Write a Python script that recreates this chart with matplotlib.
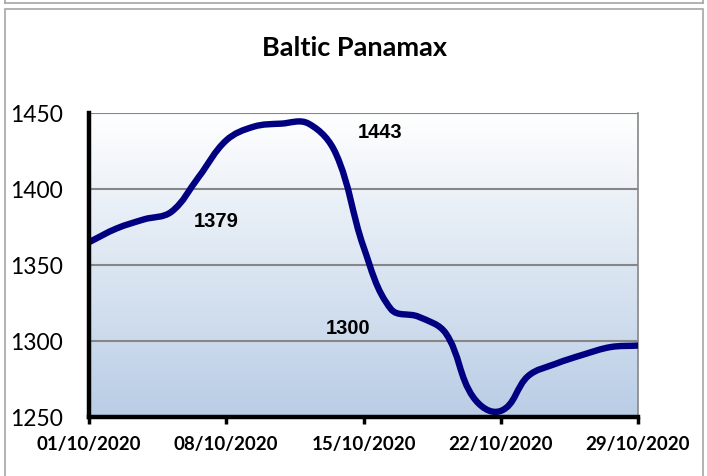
import numpy as np
import matplotlib
matplotlib.use("Agg")
import matplotlib.pyplot as plt
from matplotlib.path import Path
from matplotlib.patches import PathPatch, Rectangle
from matplotlib.lines import Line2D

# ---- data ----
dates = ['01/10/2020', '02/10/2020', '05/10/2020', '06/10/2020', '07/10/2020',
         '08/10/2020', '09/10/2020', '12/10/2020', '13/10/2020', '14/10/2020',
         '15/10/2020', '16/10/2020', '19/10/2020', '20/10/2020', '21/10/2020',
         '22/10/2020', '23/10/2020', '26/10/2020', '27/10/2020', '28/10/2020',
         '29/10/2020']
values = [1365, 1374, 1380, 1385, 1408, 1432, 1441, 1443, 1443, 1423,
          1362, 1321, 1316, 1305, 1263, 1254, 1277, 1285, 1291, 1296, 1297]
tick_labels = ['01/10/2020', '08/10/2020', '15/10/2020', '22/10/2020', '29/10/2020']
y_ticks = [1250, 1300, 1350, 1400, 1450]
title = 'Baltic Panamax'
notes = [('1379', 4.63, 1378.5), ('1443', 10.62, 1437.0), ('1300', 9.42, 1308.5)]

W, H = 707, 476
fig = plt.figure(figsize=(W / 100, H / 100), dpi=100)
fig.patch.set_facecolor('white')

# frame lines
px = lambda x: x / W
py = lambda y: 1 - y / H
frame_col = '#A6A6A6'
fig.add_artist(Line2D([px(4.5), px(702.5)], [py(3), py(3)], color=frame_col, lw=1.2))
fig.add_artist(Line2D([px(4.5), px(4.5)], [py(0), py(3)], color=frame_col, lw=1.2))
fig.add_artist(Line2D([px(702.5), px(702.5)], [py(0), py(3)], color=frame_col, lw=1.2))
fig.add_artist(Rectangle((px(4.5), py(480)), px(698), (480 - 9) / H, fill=False,
                         edgecolor=frame_col, lw=1.2))

ax = fig.add_axes([89 / W, 1 - 417 / H, (638 - 89) / W, (417 - 113) / H])
ax.set_xlim(0, len(values) - 1)
ax.set_ylim(1250, 1450)

# gradient background (white at top -> light blue at bottom)
grad = np.linspace(0, 1, 256)
top = np.array([1.0, 1.0, 1.0])
bot = np.array([0xB9, 0xCD, 0xE5]) / 255
img = top[None, :] * (1 - grad)[:, None] + bot[None, :] * grad[:, None]
img = img.reshape(256, 1, 3)
ax.imshow(img, extent=[0, len(values) - 1, 1250, 1450], aspect='auto', zorder=0,
          origin='upper')
ax.set_xlim(0, len(values) - 1)
ax.set_ylim(1250, 1450)

# gridlines
for v in y_ticks[1:]:
    ax.axhline(v, color='#868686', lw=1.5, zorder=1)

# smoothed line: bezier with tangents scaled by segment length in display space
xs = np.arange(len(values), dtype=float)
ys = np.array(values, dtype=float)
D = ax.transData.transform(np.column_stack([xs, ys]))
n = len(D)
tang = np.zeros_like(D)
for i in range(n):
    a = D[max(i - 1, 0)]
    b = D[min(i + 1, n - 1)]
    d = b - a
    tang[i] = d / np.hypot(*d)
f = 0.36
verts = [tuple(D[0])]
codes = [Path.MOVETO]
for i in range(n - 1):
    L = np.hypot(*(D[i + 1] - D[i]))
    c1 = D[i] + tang[i] * L * f
    c2 = D[i + 1] - tang[i + 1] * L * f
    verts += [tuple(c1), tuple(c2), tuple(D[i + 1])]
    codes += [Path.CURVE4] * 3
vd = ax.transData.inverted().transform(np.array(verts))
path = Path(vd, codes)
ax.add_patch(PathPatch(path, fill=False, edgecolor='#000080', lw=4.6, zorder=3,
                       capstyle='round', joinstyle='round'))

# spines
ax.spines['top'].set_visible(False)
ax.spines['right'].set_color('#868686')
ax.spines['right'].set_linewidth(1.2)
ax.spines['left'].set_color('black')
ax.spines['left'].set_linewidth(3.2)
ax.spines['bottom'].set_color('black')
ax.spines['bottom'].set_linewidth(3.2)
for s in ['left', 'bottom']:
    ax.spines[s].set_zorder(4)

ax.set_xticks([0, 5, 10, 15, 20])
ax.set_xticklabels(tick_labels, fontfamily='Lato', fontweight='bold', fontsize=13.5)
ax.tick_params(axis='x', length=5, width=2.5, color='black', pad=9)
ax.set_yticks(y_ticks)
ax.set_yticklabels([str(v) for v in y_ticks], fontfamily='Lato', fontsize=16.5)
ax.tick_params(axis='y', length=0, pad=18.5)

for txt, xv, yv in notes:
    ax.text(xv, yv, txt, ha='center', va='center', fontfamily='Liberation Sans',
            fontweight='bold', fontsize=14.5, color='black', zorder=5)

fig.text(355 / W, 1 - 48 / H, title, ha='center', va='center', fontfamily='Lato',
         fontweight='bold', fontsize=19.5)

fig.savefig('out.png', dpi=100)
